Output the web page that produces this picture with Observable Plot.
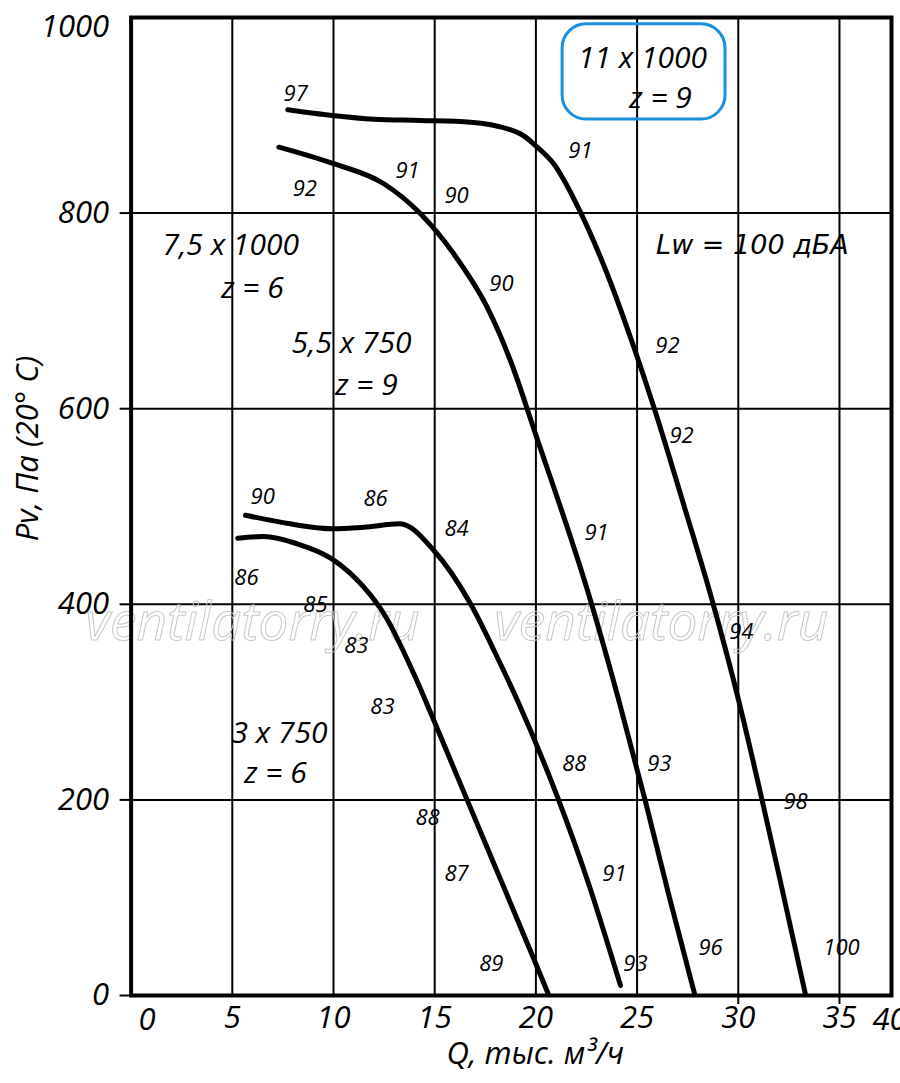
<!DOCTYPE html>
<html>
<head>
<meta charset="utf-8">
<script src="https://cdn.jsdelivr.net/npm/d3@7"></script>
<script src="https://cdn.jsdelivr.net/npm/@observablehq/plot@0.6"></script>
<style>
  html, body { margin: 0; padding: 0; background: #fff; }
</style>
</head>
<body>
<div id="chart"></div>
<script>
// ---- Data ----
const fanNames = ["11 x 1000", "7,5 x 1000", "5,5 x 750", "3 x 750"];

const qA = [7.74, 9.93, 12.0, 14.3, 16.77, 19.24, 19.98, 20.88, 22.2, 23.52, 24.84, 25.83, 27.34, 28.71, 30.02, 31.18, 32.07, 33.32];
const pA = [905.6, 899.8, 896, 894.7, 893, 881, 869.1, 850.4, 801, 738, 662.9, 601.5, 499.3, 403.9, 301.6, 199.4, 117.6, 1];

const qB = [7.3, 9.93, 12.49, 14.3, 15.94, 17.59, 18.74, 19.98, 22.7, 24.1, 25.4, 26.6, 27.85];
const pB = [867.4, 851, 830, 799.3, 758.4, 703.8, 649.3, 574.3, 403.9, 301.6, 199.4, 100, 1];

const qC = [5.65, 7.38, 9.92, 11.5, 13.28, 14.96, 16.77, 18.09, 19.09, 21.13, 22.55, 24.18];
const pC = [491, 484, 477.2, 478.8, 482.3, 455, 400.5, 345.9, 301.6, 199.4, 117.6, 10.2];

const qD = [5.27, 6.56, 8.2, 9.92, 11.5, 12.49, 13.97, 14.96, 16.13, 18.0, 19.93, 20.62];
const pD = [467.6, 469.3, 461.9, 446.5, 417.5, 390.3, 328.9, 281.2, 223.3, 131.2, 35.8, 1];

// noise level annotations (dBA) along curves
const noiseText = ["97","92","91","90","91","90","92","92","91","94","90","86","84","86","85","83","83","88","93","98","88","87","91","89","93","96","100"];
const noiseQ    = [8.13, 8.58, 13.66, 16.08, 22.2, 18.3, 26.5, 27.2, 23.0, 30.15, 6.5, 12.08, 16.08, 5.7, 9.11, 11.13, 12.42, 21.9, 26.1, 32.83, 14.65, 16.08, 23.88, 17.8, 24.92, 28.63, 35.1];
const noiseP    = [922, 825, 843.6, 818, 864, 728, 664.6, 572.6, 473.4, 372, 510, 508, 477.5, 427.4, 399.8, 356.9, 295.5, 237.2, 237.2, 198.4, 182, 124.7, 124.7, 32.7, 32.7, 49, 49];

// series annotations
const seriesText = ["7,5 x 1000", "z = 6", "5,5 x 750", "z = 9", "3 x 750", "z = 6", "11 x 1000", "z = 9"];
const seriesQ    = [4.92, 6.0, 10.89, 11.63, 7.33, 7.13, 25.27, 26.16];
const seriesP    = [766.9, 723, 666.7, 623.7, 267.9, 227, 958, 917];

// sound power level note
const levelText = ["Lw = 100 дБА"];
const levelQ = [30.7];
const levelP = [767];

// highlighted box around "11 x 1000, z = 9": [q1, q2, p1, p2]
const boxBounds = [21.32, 29.37, 895.7, 993];

// watermark
const watermarkText = ["ventilatorry.ru", "ventilatorry.ru"];
const watermarkQ = [6.0, 26.2];
const watermarkP = [381, 381];

// axes
const xDomain = [0, 37.57];
const yDomain = [0, 1000];
const xTicks = [5, 10, 15, 20, 25, 30, 35];
const xTickMarks = [30, 35];
const yTicks = [0, 200, 400, 600, 800];
const yGrid = [200, 400, 600, 800];
const yTopTick = [1000];
const xLabel = "Q, тыс. м³/ч";
const yLabel = "Pv, Па (20° C)";

// ---- Build tables ----
const curves = [
  ...qA.map((q, i) => ({fan: fanNames[0], q, p: pA[i]})),
  ...qB.map((q, i) => ({fan: fanNames[1], q, p: pB[i]})),
  ...qC.map((q, i) => ({fan: fanNames[2], q, p: pC[i]})),
  ...qD.map((q, i) => ({fan: fanNames[3], q, p: pD[i]}))
];
const noise = noiseText.map((t, i) => ({t, q: noiseQ[i], p: noiseP[i]}));
const series = seriesText.map((t, i) => ({t, q: seriesQ[i], p: seriesP[i]}));
const level = levelText.map((t, i) => ({t, q: levelQ[i], p: levelP[i]}));
const box = [{q1: boxBounds[0], q2: boxBounds[1], p1: boxBounds[2], p2: boxBounds[3]}];
const watermark = watermarkText.map((t, i) => ({t, q: watermarkQ[i], p: watermarkP[i]}));

const font = "'Open Sans', 'DejaVu Sans', sans-serif";

const chart = Plot.plot({
  width: 900,
  height: 1083,
  marginLeft: 130.6,
  marginRight: 9,
  marginTop: 17,
  marginBottom: 88,
  x: {domain: xDomain},
  y: {domain: yDomain},
  style: {fontFamily: font, fontStyle: "italic", background: "white", color: "black"},
  marks: [
    Plot.ruleX(xTicks, {stroke: "black", strokeWidth: 2}),
    Plot.ruleY(yGrid, {stroke: "black", strokeWidth: 2}),
    Plot.text(watermark, {x: "q", y: "p", text: "t", fontSize: 53, fill: "none", stroke: "#c8c8c8", strokeWidth: 1}),
    Plot.rect(box, {x1: "q1", x2: "q2", y1: "p1", y2: "p2", fill: "none", stroke: "#1b8fe0", strokeWidth: 3, rx: 24}),
    Plot.line(curves, {x: "q", y: "p", z: "fan", curve: "monotone-x", stroke: "black", strokeWidth: 5, strokeLinecap: "round"}),
    Plot.text(noise, {x: "q", y: "p", text: "t", fontSize: 22, fill: "black"}),
    Plot.text(series, {x: "q", y: "p", text: "t", fontSize: 30, fill: "black"}),
    Plot.text(level, {x: "q", y: "p", text: "t", fontSize: 27, fill: "black", fontFamily: "'DejaVu Sans', sans-serif", fontStyle: "oblique"}),
    Plot.frame({stroke: "black", strokeWidth: 4}),
    // axes
    Plot.axisY(yTicks, {tickSize: 11, tickPadding: 11, fontSize: 31, strokeWidth: 2, label: null}),
    Plot.text(yTopTick, {y: d => d, frameAnchor: "left", dx: -22, dy: 10, textAnchor: "end", text: d => String(d), fontSize: 31}),
    Plot.axisX(xTicks, {tickSize: 0, tickPadding: 10, fontSize: 31, label: null}),
    Plot.axisX(xTickMarks, {tickSize: 9, strokeWidth: 2, text: null, label: null}),
    Plot.text(["0"], {frameAnchor: "bottom-left", textAnchor: "middle", lineAnchor: "middle", dx: 16, dy: 25, text: d => d, fontSize: 31}),
    Plot.text(["40"], {frameAnchor: "bottom-right", textAnchor: "middle", lineAnchor: "middle", dx: -2, dy: 25, text: d => d, fontSize: 31}),
    Plot.text([xLabel], {frameAnchor: "bottom", textAnchor: "middle", dx: 24, dy: 68, text: d => d, fontSize: 31}),
    Plot.text([yLabel], {frameAnchor: "left", textAnchor: "middle", dx: -103, dy: -58, rotate: -90, text: d => d, fontSize: 31})
  ]
});
document.getElementById("chart").appendChild(chart);
</script>
</body>
</html>
